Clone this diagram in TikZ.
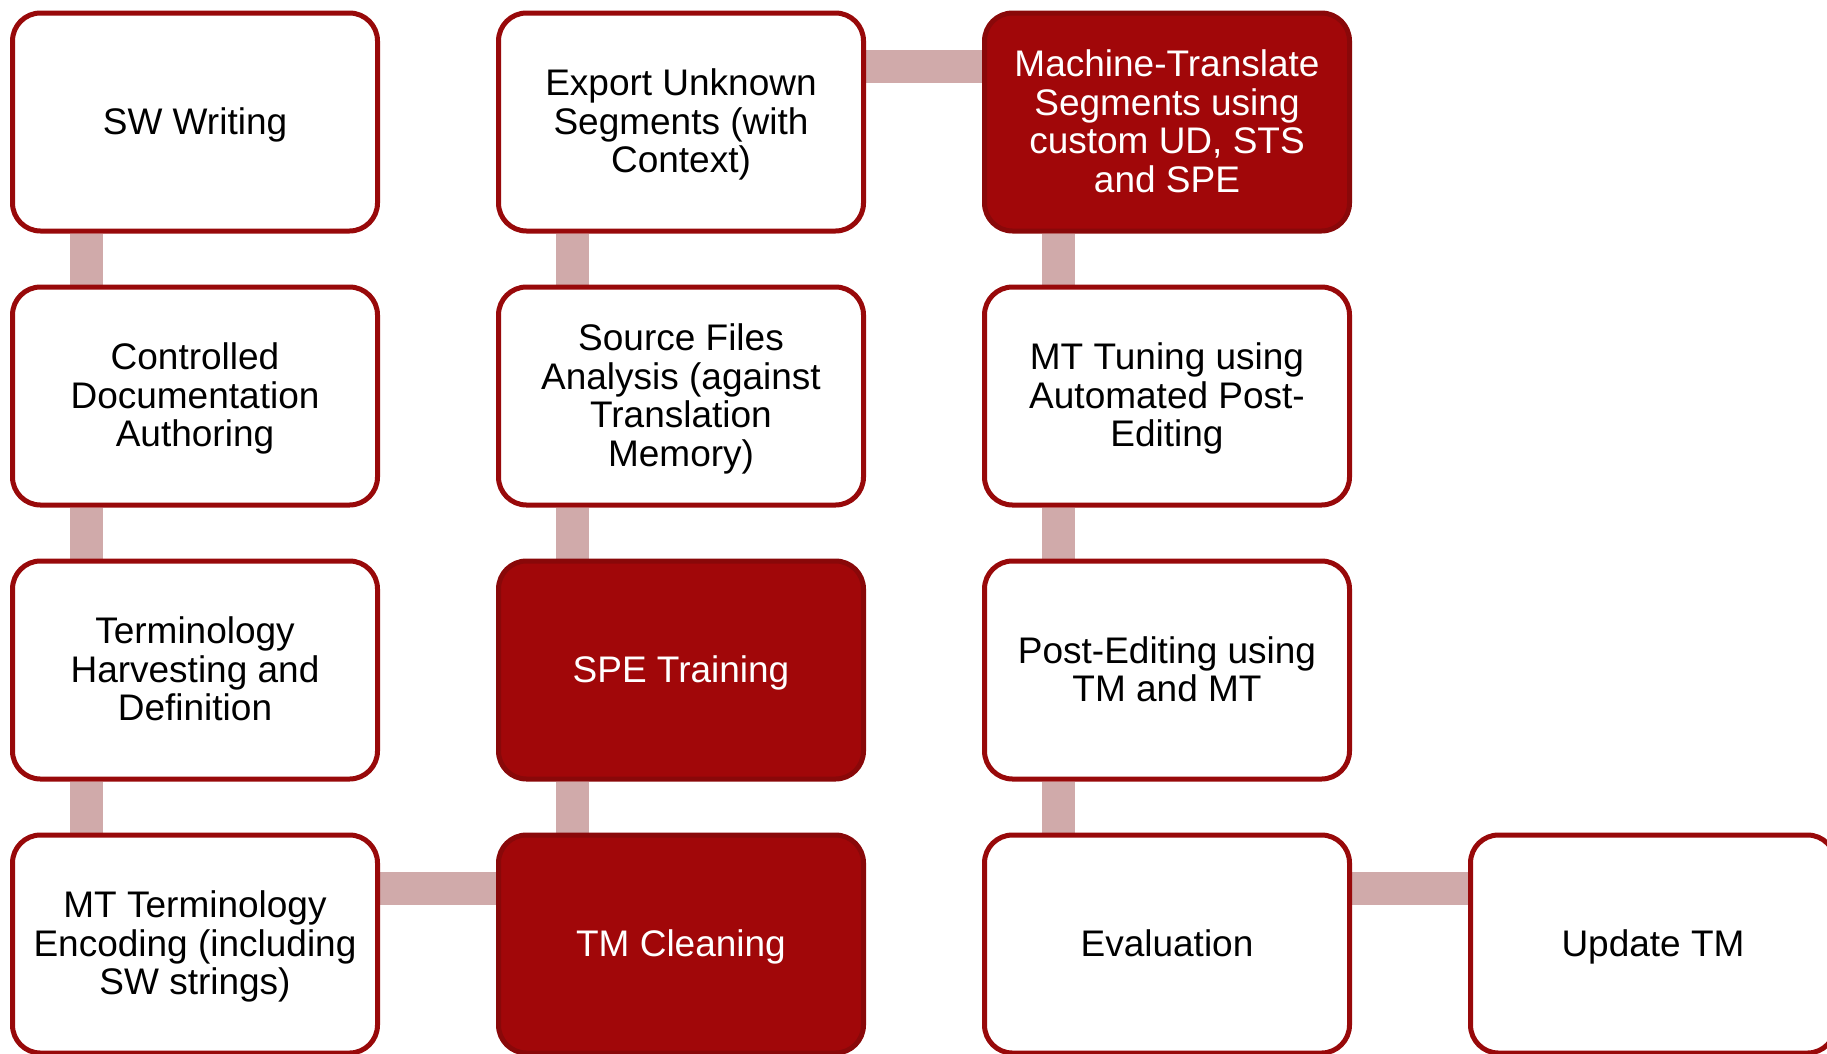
\documentclass[tikz,border=0pt]{standalone}
\usepackage{fontspec}
\setmainfont{Liberation Sans}
\usetikzlibrary{calc}

\definecolor{boxred}{RGB}{152,9,10}
\definecolor{fillred}{RGB}{161,7,9}
\definecolor{linkpink}{RGB}{208,170,170}

% layer below the boxes for the connecting bars
\pgfdeclarelayer{bars}
\pgfsetlayers{bars,main}

% invisible strut: fixes the height of first and depth of last text line
\newcommand\lnstrut{\rule[-8pt]{0pt}{35pt}}

\tikzset{
  stepbox/.style={rectangle, rounded corners=28pt, line width=5pt,
    draw=boxred, fill=white, minimum width=365pt, minimum height=218pt,
    inner sep=0pt, align=center, text=black,
    font=\fontsize{37}{38.5}\selectfont},
  keybox/.style={stepbox, fill=fillred, draw=boxred!90!black, text=white},
  boxtext/.style={align=center, inner sep=0pt, yshift=-3pt,
    font=\fontsize{37}{38.5}\selectfont,
    execute at begin node=\lnstrut, execute at end node=\lnstrut},
  link/.style={draw=linkpink, line width=33pt},
}

\begin{document}
\begin{tikzpicture}[x={(1pt,0)}, y={(0,-1pt)}]
  \useasboundingbox (0,0) rectangle (1827,1053);
  \clip (0,0) rectangle (1827,1053);

  % boxes (shapes only, text placed separately)
  \node[stepbox] (sw)   at (195,122) {};
  \node[stepbox] (cda)  at (195,396) {};
  \node[stepbox] (th)   at (195,670) {};
  \node[stepbox] (mtte) at (195,944) {};

  \node[stepbox] (exp)  at (681,122) {};
  \node[stepbox] (sfa)  at (681,396) {};
  \node[keybox]  (spe)  at (681,670) {};
  \node[keybox]  (tmc)  at (681,944) {};

  \node[keybox]  (mts)  at (1167,122) {};
  \node[stepbox] (tune) at (1167,396) {};
  \node[stepbox] (pe)   at (1167,670) {};
  \node[stepbox] (eval) at (1167,944) {};

  \node[stepbox] (upd)  at (1653,944) {};

  \begin{pgfonlayer}{bars}
    \fill[white] (0,0) rectangle (1827,1053);
    % vertical bars, offset toward the left of each column
    \foreach \a/\b in {sw/cda, cda/th, th/mtte, exp/sfa, sfa/spe, spe/tmc, mts/tune, tune/pe, pe/eval} {
      \draw[link] ($(\a.south)+(-108.5,0)$) -- ($(\b.north)+(-108.5,0)$);
    }
    % horizontal bars, offset toward the top of each row
    \foreach \a/\b in {mtte/tmc, exp/mts, eval/upd} {
      \draw[link] ($(\a.east)+(0,-55.5)$) -- ($(\b.west)+(0,-55.5)$);
    }
  \end{pgfonlayer}

  % labels
  \node[boxtext] (tsw)   at (sw)   {SW Writing};
  \node[boxtext] (tcda)  at (cda)  {Controlled\\Documentation\\Authoring};
  \node[boxtext] (tth)   at (th)   {Terminology\\Harvesting and\\Definition};
  \node[boxtext] (tmtte) at (mtte) {MT Terminology\\Encoding (including\\SW strings)};

  \node[boxtext] (texp)  at (exp)  {Export Unknown\\Segments (with\\Context)};
  \node[boxtext] (tsfa)  at (sfa)  {Source Files\\Analysis (against\\Translation\\Memory)};
  \node[boxtext, text=white] (tspe) at (spe) {SPE Training};
  \node[boxtext, text=white] (ttmc) at (tmc) {TM Cleaning};

  \node[boxtext, text=white] (tmts) at (mts) {Machine-Translate\\Segments using\\custom UD, STS\\and SPE};
  \node[boxtext] (ttune) at (tune) {MT Tuning using\\Automated Post-\\Editing};
  \node[boxtext] (tpe)   at (pe)   {Post-Editing using\\TM and MT};
  \node[boxtext] (teval) at (eval) {Evaluation};

  \node[boxtext] (tupd)  at (upd)  {Update TM};
\end{tikzpicture}
\end{document}
